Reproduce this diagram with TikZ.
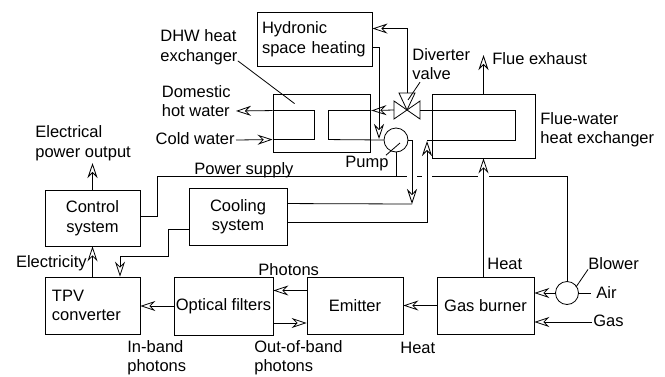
\documentclass[tikz,border=0pt]{standalone}
\usepackage{fontspec}
\setmainfont{Liberation Sans}
\usetikzlibrary{calc, arrows.meta}

\begin{document}
\begin{tikzpicture}[x=1pt, y=-1pt, line width=0.8pt,
  font=\fontsize{16.5}{19.5}\selectfont,
  box/.style={draw, line width=0.9pt, inner sep=0pt, align=center},
  lbl/.style={inner sep=0pt, align=left},
  arr/.style={-{Stealth[open, length=15pt, width=10pt, inset=5pt]}}]

% 画布大小
\useasboundingbox (0,0) rectangle (665,376);

% 方框
\node[box, minimum width=115pt, minimum height=54pt, text width=105pt, align=left] (hyd) at (314.5,39) {Hydronic\\space heating};
\node[box, minimum width=97pt, minimum height=58pt] (dhw) at (321.5,123) {};
\node[box, minimum width=103pt, minimum height=64pt] (flue) at (483.5,126) {};
\node[box, minimum width=95pt, minimum height=56pt] (ctrl) at (92.5,218) {Control\\system};
\node[box, minimum width=98pt, minimum height=57pt] (cool) at (238,216.5) {Cooling\\system};
\node[box, minimum width=95pt, minimum height=57pt, text width=81pt, align=left] (tpv) at (92.5,305.5) {TPV\\converter};
\node[box, minimum width=99pt, minimum height=58pt] (optic) at (223.5,306) {Optical filters};
\node[box, minimum width=96pt, minimum height=57pt] (emit) at (355,305.5) {Emitter};
\node[box, minimum width=97pt, minimum height=57pt] (burner) at (485.5,305.5) {Gas burner};

% 水泵和风机
\node[draw, circle, minimum size=24pt, inner sep=0pt] (pump) at (396,140) {};
\node[draw, circle, minimum size=23pt, inner sep=0pt] (blower) at (567,293) {};

% 分流阀（三个三角形）
\coordinate (valve) at (407,110);
\draw[fill=white] (valve) -- ++(-13,-9) -- ++(0,18) -- cycle;
\draw[fill=white] (valve) -- ++(13,-9) -- ++(0,18) -- cycle;
\draw[fill=white] (valve) -- ++(-8,-17) -- ++(16,0) -- cycle;
\coordinate (vL) at ($(valve)+(-13,0)$);
\coordinate (vR) at ($(valve)+(13,0)$);
\coordinate (vT) at ($(valve)+(0,-17)$);

% 生活热水换热器内管
\coordinate (hw) at ($(dhw.north west)+(0,17)$);
\coordinate (cw) at ($(dhw.north west)+(0,46)$);
\draw (hw) -- ++(42,0) |- (cw);
\coordinate (hwout) at (236,111);
\coordinate (cwin) at (236,140);
\draw[arr] (hw) -- (hwout);
\draw[arr] (cwin) -- (cw);

% 换热器右半：阀 -> 换热器 -> 水泵
\coordinate (dr) at ($(dhw.north east)+(1,17)$);
\coordinate (dl) at ($(dhw.north west)+(56,46)$);
\draw[arr] (vL) -- (dr);
\draw (dr) -| (dl) -- (pump.west);

% 采暖回路
\draw[arr] (vT) |- ($(hyd.north east)+(0,17)$);
\draw[arr] ($(hyd.north east)+(0,36)$) -| (379,139);

% 烟气-水换热器内管
\coordinate (fin) at (427,140);
\draw (vR) -- (515,110) |- (fin);

% 水泵 -> 冷却系统 -> 烟气换热器
\coordinate (pd) at (412,204);
\draw[arr] (pump.east) -| (pd);
\draw ($(cool.north east)+(0,16)$) -- (pd);
\draw[arr] ($(cool.north east)+(0,35)$) -| ($(fin)+(0,1)$);

% 电源线（交叉处断开）
\coordinate (psup) at (157,176);
\draw ($(ctrl.east)+(0,-2)$) -| (psup) -- (407,176) (417,176) -- (422,176) (432,176) -- (478,176) (489,176) -| (blower.north);
\draw (pump.south) -- (pump.south |- psup);

% 热量与烟气
\coordinate (exh) at (483.5,55);
\draw[arr] (burner.north -| flue.south) -- (flue.south);
\draw[arr] (flue.north) -- (exh);

% 风机、空气、燃气
\coordinate (air) at (591,293);
\coordinate (gas) at (592,322);
\draw[arr] (blower.west) -- (blower.west -| burner.east);
\draw (blower.east) -- (air);
\draw[arr] (gas) -- (gas -| burner.east);

% 燃烧器 -> 发射器 -> 滤光片 -> TPV
\coordinate (ph) at ($(emit.west)+(0,-15)$);
\coordinate (ob) at ($(optic.east)+(0,17)$);
\draw[arr] (burner.west) -- (emit.east);
\draw[arr] (ph) -- (ph -| optic.east);
\draw[arr] (ob) -- (ob -| emit.west);
\draw[arr] (optic.west) -- (optic.west -| tpv.east);

% 电力
\coordinate (eout) at (92.5,163);
\draw[arr] (tpv.north) -- (ctrl.south);
\draw[arr] (ctrl.north) -- (eout);

% 冷却 -> TPV
\draw[arr] ($(cool.west)+(0,12.5)$) -| (168,256) -| ($(tpv.north)+(27.5,0)$);

% 文字标注
\node[lbl, anchor=west] (dhwlbl) at (160,47) {DHW heat\\exchanger};
\draw ($(dhwlbl.south east)+(0,-4)$) -- ($(dhw.north west)+(22,10)$);
\node[lbl, anchor=east] at (231,101) {Domestic\\hot water};
\node[lbl, anchor=base east] at ($(cwin)+(-1,4)$) {Cold water};
\node[lbl, anchor=west] (divlbl) at (412,64) {Diverter\\valve};
\draw ($(valve)+(1,-10)$) -- ($(divlbl.south west)+(8,2)$);
\node[lbl, anchor=west] at (492,59) {Flue exhaust};
\node[lbl, anchor=west] at (540,129.5) {Flue-water\\heat exchanger};
\node[lbl] (pumplbl) at (367,164) {Pump};
\draw ($(pumplbl.north east)+(-3,-1)$) -- ($(pump.center)+(4,3)$);
\node[lbl, anchor=base west] at (194,174) {Power supply};
\node[lbl, anchor=west] at (35,143) {Electrical\\power output};
\node[lbl, anchor=east] at (87,263) {Electricity};
\node[lbl, anchor=west] at (487,264) {Heat};
\node[lbl, anchor=west] (blwlbl) at (588,264) {Blower};
\draw ($(blower.center)+(9,-6)$) -- ($(blwlbl.south west)+(0,-1)$);
\node[lbl, anchor=west] at (596,293) {Air};
\node[lbl, anchor=west] at (593,321) {Gas};
\node[lbl, anchor=west] at (258,270) {Photons};
\node[lbl, anchor=west] at (400,347.5) {Heat};
\node[lbl, anchor=west] at (127,357.5) {In-band\\photons};
\node[lbl, anchor=west] at (254,357.5) {Out-of-band\\photons};

\end{tikzpicture}
\end{document}
